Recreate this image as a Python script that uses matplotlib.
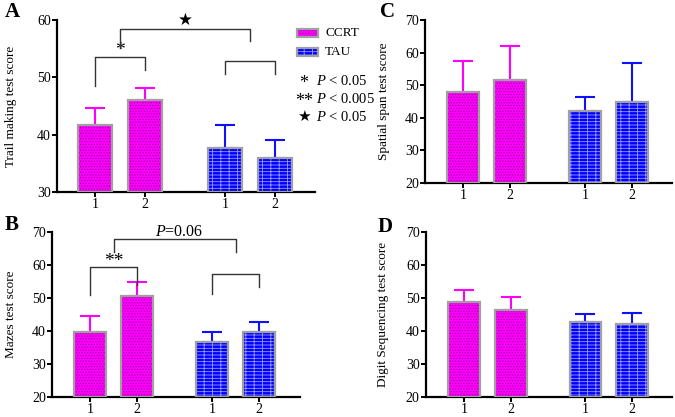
import matplotlib
matplotlib.use('Agg')
import matplotlib.pyplot as plt
from matplotlib.patches import Rectangle

plt.rcParams['font.family'] = ['Liberation Serif', 'DejaVu Sans']
plt.rcParams['mathtext.fontset'] = 'custom'
plt.rcParams['mathtext.rm'] = 'Liberation Serif'
plt.rcParams['mathtext.it'] = 'Liberation Serif:italic'
plt.rcParams['hatch.linewidth'] = 0.6

# data: group means and upper SD, order CCRT-1, CCRT-2, TAU-1, TAU-2
groups = ['CCRT', 'CCRT', 'TAU', 'TAU']
tick_labels = ['1', '2', '1', '2']
trail_mean = [41.6, 46.0, 37.6, 35.9]
trail_err = [3.1, 2.1, 4.1, 3.2]
mazes_mean = [39.8, 50.7, 36.5, 39.8]
mazes_err = [4.6, 4.0, 3.1, 2.8]
span_mean = [47.8, 51.6, 42.1, 44.8]
span_err = [9.6, 10.3, 4.4, 12.1]
digit_mean = [48.7, 46.3, 42.8, 42.2]
digit_err = [3.7, 3.8, 2.4, 3.1]

xpos = [0, 1, 2.6, 3.6]
style = {'CCRT': dict(face='#ff00ff', hatch='......', hcol='#a000a0', err='#ff00ff'),
         'TAU': dict(face='#0000ff', hatch='-----||', hcol='#9a9aff', err='#1010ff')}

fig = plt.figure(figsize=(6.75, 4.17), dpi=100)
W, H = 675.0, 417.0

def make_ax(left, right, top, bottom):
    return fig.add_axes([left / W, 1 - bottom / H, (right - left) / W, (bottom - top) / H])

def draw_bars(ax, mean, err, ylim, xlim, ylabel, label_px, left, right):
    for x, m, e, g in zip(xpos, mean, err, groups):
        s = style[g]
        ax.errorbar(x, m, yerr=[[0], [e]], color=s['err'], elinewidth=1.5,
                    capsize=7, capthick=1.5, zorder=1)
        ax.bar(x, m - ylim[0], bottom=ylim[0], width=0.68, color=s['face'],
               edgecolor=s['hcol'], hatch=s['hatch'], linewidth=0, zorder=2)
        ax.bar(x, m - ylim[0], bottom=ylim[0], width=0.68, fill=False,
               edgecolor='#a0a0a0', linewidth=1.6, zorder=3)
    ax.set_ylim(*ylim)
    ax.set_xlim(*xlim)
    ax.set_yticks(range(ylim[0], ylim[1] + 1, 10))
    ax.set_xticks(xpos)
    ax.set_xticklabels(tick_labels)
    for sp in ['top', 'right']:
        ax.spines[sp].set_visible(False)
    for sp in ['left', 'bottom']:
        ax.spines[sp].set_linewidth(1.6)
    ax.tick_params(width=1.4, length=3.5, labelsize=10, pad=1)
    ax.set_ylabel(ylabel, fontsize=9.5, va='center')
    ax.yaxis.set_label_coords((label_px - left) / (right - left), 0.5)
    ax.patch.set_alpha(0)

def bracket(ax, x1, x2, top, y1, y2, label=None, ly=None, fs=11, lx=None):
    ax.plot([x1, x1, x2, x2], [y1, top, top, y2], color='#333333', lw=1.0,
            clip_on=False, zorder=4)
    if label:
        ax.text((x1 + x2) / 2 if lx is None else lx, ly, label, ha='center', va='center',
                fontsize=fs, clip_on=False)

axA = make_ax(57, 315, 20, 192)
draw_bars(axA, trail_mean, trail_err, (30, 60), (-0.76, 4.4), 'Trail making test score', 11, 57, 315)
bracket(axA, 0, 1, 53.5, 48.5, 51.2, '*', 54.6, fs=14)
bracket(axA, 0.5, 3.1, 58.4, 55.1, 56.4, '\u2605', 59.9, fs=12)
bracket(axA, 2.6, 3.6, 52.9, 50.6, 50.6)

axB = make_ax(52, 300, 231.7, 397)
draw_bars(axB, mazes_mean, mazes_err, (20, 70), (-0.81, 4.47), 'Mazes test score', 11, 52, 300)
bracket(axB, 0, 1, 59.2, 50.9, 53.9, '**', 61.0, fs=14)
bracket(axB, 0.5, 3.1, 67.7, 64.0, 64.0, '$\\mathit{P}$=0.06', 70.0, fs=11.5, lx=1.9)
bracket(axB, 2.6, 3.6, 57.1, 51.1, 53.4)

axC = make_ax(425, 672, 20, 183)
draw_bars(axC, span_mean, span_err, (20, 70), (-0.81, 4.45), 'Spatial span test score', 384, 425, 672)

axD = make_ax(426, 672, 231.7, 397)
draw_bars(axD, digit_mean, digit_err, (20, 70), (-0.81, 4.45), 'Digit Sequencing test score', 383, 426, 672)

# panel letters
for lab, x, y in [('A', 5, 12), ('B', 5, 225), ('C', 380, 12), ('D', 378, 227)]:
    fig.text(x / W, 1 - y / H, lab, fontsize=15, fontweight='bold', va='center', ha='left')

# legend
for g, y in [('CCRT', 33), ('TAU', 52)]:
    s = style[g]
    fig.add_artist(Rectangle((297 / W, 1 - (y + 4) / H), 21 / W, 8 / H, transform=fig.transFigure,
                             facecolor=s['face'], edgecolor=s['hcol'], hatch=s['hatch'], linewidth=0))
    fig.add_artist(Rectangle((297 / W, 1 - (y + 4) / H), 21 / W, 8 / H, transform=fig.transFigure,
                             fill=False, edgecolor='#a0a0a0', linewidth=1.6))
    fig.text(325 / W, 1 - y / H, g, fontsize=9.5, va='center', ha='left')

for sym, y, txt in [('*', 81, '$\\mathit{P}$ < 0.05'), ('**', 99, '$\\mathit{P}$ < 0.005'),
                    ('\u2605', 117, '$\\mathit{P}$ < 0.05')]:
    fig.text(304 / W, 1 - (y + 2 if sym != '\u2605' else y) / H, sym,
             fontsize=13 if sym != '\u2605' else 11, va='center', ha='center')
    fig.text(316 / W, 1 - y / H, txt, fontsize=10.5, va='center', ha='left')

fig.savefig('out.png', dpi=100)
